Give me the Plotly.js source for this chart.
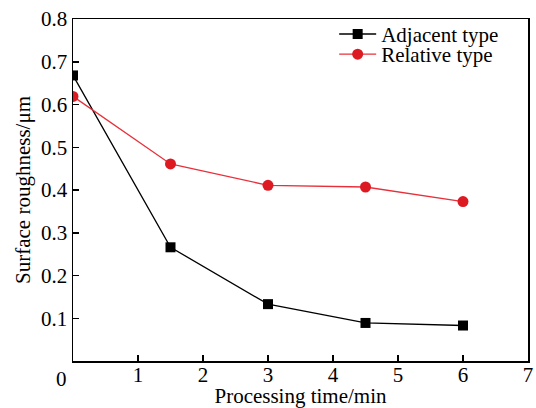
<!DOCTYPE html>
<html>
<head>
<meta charset="utf-8">
<script src="https://cdn.plot.ly/plotly-3.0.1.min.js"></script>
<style>html,body{margin:0;padding:0;background:#fff;}#chart{width:536px;height:408px;}</style>
</head>
<body>
<div id="chart"></div>
<script>
var timeMin = [0, 1.5, 3, 4.5, 6];
var adjacentType = [0.668, 0.266, 0.133, 0.089, 0.083];
var relativeType = [0.619, 0.461, 0.411, 0.407, 0.373];
var xTickVals = [1, 2, 3, 4, 5, 6, 7];
var yTickVals = [0.1, 0.2, 0.3, 0.4, 0.5, 0.6, 0.7, 0.8];

var fontFam = '"Liberation Serif", "Times New Roman", serif';
var fs = 21;

var traces = [
  {
    x: timeMin, y: adjacentType, name: 'Adjacent type', legend: 'legend',
    mode: 'lines+markers', type: 'scatter',
    line: {color: '#000000', width: 1.3},
    marker: {symbol: 'square', size: 10, color: '#000000'}
  },
  {
    x: timeMin, y: relativeType, name: 'Relative type', legend: 'legend2',
    mode: 'lines+markers', type: 'scatter',
    line: {color: '#e8303a', width: 1.3},
    marker: {symbol: 'circle', size: 11, color: '#dd1a22'}
  }
];

function legendAt(yv) {
  return {
    x: 0.574, y: yv, xanchor: 'left', yanchor: 'top',
    bgcolor: 'rgba(0,0,0,0)', borderwidth: 0,
    font: {family: fontFam, size: fs, color: '#000'},
    itemwidth: 37
  };
}

var layout = {
  width: 536, height: 408,
  margin: {l: 73, r: 8, t: 19, b: 47},
  paper_bgcolor: '#ffffff', plot_bgcolor: '#ffffff',
  font: {family: fontFam, size: fs, color: '#000000'},
  showlegend: true,
  legend: legendAt(1.015),
  legend2: legendAt(0.956),
  xaxis: {
    range: [0, 7], tickvals: xTickVals, ticktext: xTickVals.map(String),
    ticks: 'inside', ticklen: 6, tickwidth: 1.5, tickcolor: '#000',
    showline: true, linecolor: '#000', linewidth: 1.5, mirror: true,
    showgrid: false, zeroline: false, ticklabelstandoff: -6,
    title: {text: 'Processing time/min', font: {family: fontFam, size: fs}, standoff: 1},
    tickfont: {family: fontFam, size: fs}
  },
  yaxis: {
    range: [0, 0.8], tickvals: yTickVals, ticktext: yTickVals.map(function(v){return v.toFixed(1);}),
    ticks: 'inside', ticklen: 6, tickwidth: 1.5, tickcolor: '#000',
    showline: true, linecolor: '#000', linewidth: 1.5, mirror: true,
    showgrid: false, zeroline: false,
    title: {text: 'Surface roughness/μm', font: {family: fontFam, size: fs}, standoff: 4},
    tickfont: {family: fontFam, size: fs}
  },
  annotations: [
    {text: '0', xref: 'paper', yref: 'paper', x: -0.025, y: 0, xanchor: 'center', yanchor: 'top',
     yshift: -4, showarrow: false, font: {family: fontFam, size: fs, color: '#000'}}
  ]
};

Plotly.newPlot('chart', traces, layout, {displayModeBar: false, staticPlot: true});
</script>
</body>
</html>
